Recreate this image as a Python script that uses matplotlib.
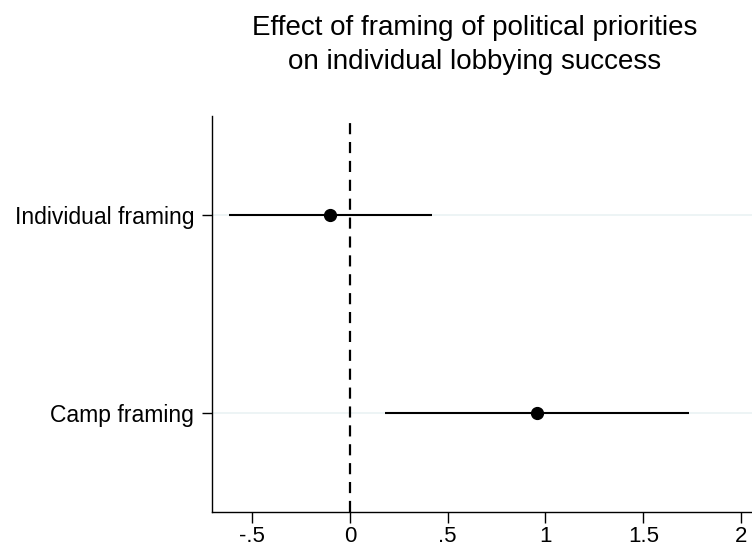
import matplotlib.pyplot as plt
import numpy as np

plt.rcParams["font.family"] = ["Liberation Sans", "DejaVu Sans"]

# coefficient estimates with 95% confidence intervals
labels = ["Individual framing", "Camp framing"]
coef = [-0.10, 0.955]
ci_low = [-0.62, 0.18]
ci_high = [0.42, 1.735]
xticks = [-0.5, 0, 0.5, 1, 1.5, 2]
xticklabels = ["-.5", "0", ".5", "1", "1.5", "2"]

fig = plt.figure(figsize=(7.52, 5.5), dpi=100)
ax = fig.add_axes([0.282, 0.069, 0.718, 0.72])

ypos = np.arange(1, len(labels) + 1)

for y in ypos:
    ax.axhline(y, color="#eaf2f3", lw=1.2, zorder=0)

ax.axvline(0, color="black", lw=1.6, dashes=(5, 3.5), zorder=1)
ax.hlines(ypos, ci_low, ci_high, color="black", lw=1.5, zorder=2)
ax.plot(coef, ypos, "o", color="black", ms=8.5, zorder=3)

ax.set_xlim(-0.705, 2.056)
ax.set_ylim(2.5, 0.5)
ax.set_yticks(ypos)
ax.set_yticklabels(labels, fontsize=16.5)
ax.set_xticks(xticks)
ax.set_xticklabels(xticklabels, fontsize=16)
ax.tick_params(axis="y", direction="out", length=7, width=1, color="black", pad=6)
ax.tick_params(axis="x", direction="out", length=8, width=1, color="black", pad=2)

for side in ["top", "right"]:
    ax.spines[side].set_visible(False)
for side in ["left", "bottom"]:
    ax.spines[side].set_linewidth(1)

fig.text(0.631, 0.972, "Effect of framing of political priorities\non individual lobbying success",
         ha="center", va="top", fontsize=20, linespacing=1.4)

fig.savefig("out.png", dpi=100)
